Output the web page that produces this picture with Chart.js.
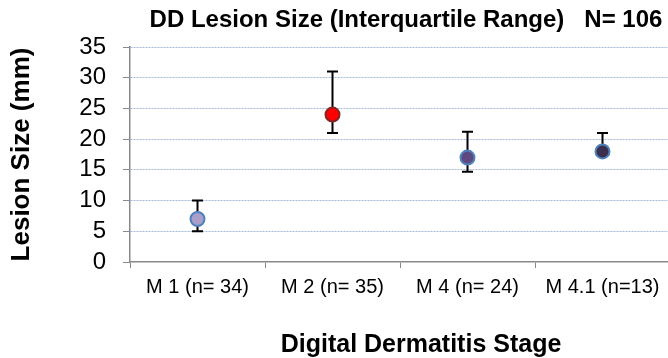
<!DOCTYPE html>
<html>
<head>
<meta charset="utf-8">
<script src="https://cdn.jsdelivr.net/npm/chart.js@4.4.1/dist/chart.umd.min.js"></script>
<style>
  html,body{margin:0;padding:0;background:#fff;overflow:hidden;}
  canvas{display:block;}
</style>
</head>
<body>
<canvas id="c" width="679" height="358"></canvas>
<script>
// data
const stages = ['M 1 (n= 34)', 'M 2 (n= 35)', 'M 4 (n= 24)', 'M 4.1 (n=13)'];
const median = [7, 24, 17, 18];
const q1     = [5, 21, 14.7, 18];
const q3     = [10, 31, 21.2, 21];
const yTicks = [0, 5, 10, 15, 20, 25, 30, 35];

const FONT = 'Liberation Sans';
const fills   = ['#aa9fc8', '#ff0000', '#5e4a80', '#3a2f4f'];
const borders = ['#4f81bd', '#862424', '#4f81bd', '#4f81bd'];
const AXIS = '#8a8a8a';

// whiskers behind the markers
const errorBars = {
  id: 'errorBars',
  beforeDatasetsDraw(chart){
    const {ctx, scales:{x, y}} = chart;
    ctx.save();
    ctx.strokeStyle = '#000'; ctx.lineWidth = 2;
    stages.forEach((s, i) => {
      const px = x.getPixelForValue(i);
      const top = y.getPixelForValue(q3[i]), bot = y.getPixelForValue(q1[i]);
      ctx.beginPath();
      ctx.moveTo(px, top); ctx.lineTo(px, bot);
      ctx.moveTo(px - 5.5, top); ctx.lineTo(px + 5.5, top);
      ctx.moveTo(px - 5.5, bot); ctx.lineTo(px + 5.5, bot);
      ctx.stroke();
    });
    ctx.restore();
  }
};

// chart title + x axis title (placed off-centre like the original)
const texts = {
  id: 'texts',
  afterDraw(chart){
    const ctx = chart.ctx;
    ctx.save();
    ctx.fillStyle = '#000';
    ctx.textAlign = 'center';
    ctx.textBaseline = 'alphabetic';
    ctx.font = 'bold 24px "' + FONT + '"';
    ctx.fillText('DD Lesion Size (Interquartile Range)   N= 106', 406, 27);
    ctx.font = 'bold 25px "' + FONT + '"';
    ctx.fillText('Digital Dermatitis Stage', 421, 352);
    ctx.restore();
  }
};

new Chart(document.getElementById('c'), {
  type: 'line',
  data: {
    labels: stages,
    datasets: [{
      data: median,
      showLine: false,
      pointRadius: 7,
      pointBorderWidth: 2,
      pointBackgroundColor: fills,
      pointBorderColor: borders
    }]
  },
  options: {
    responsive: false,
    animation: false,
    layout: { padding: { top: 47, right: 1, left: 0, bottom: 0 } },
    plugins: { legend: { display: false }, tooltip: { enabled: false } },
    scales: {
      x: {
        type: 'category',
        offset: true,
        grid: { display: true, drawOnChartArea: false, offset: true, tickLength: 6, color: AXIS, tickColor: AXIS },
        border: { color: AXIS, width: 1.5 },
        ticks: { color: '#000', font: { family: FONT, size: 20 }, padding: 7, maxRotation: 0, autoSkip: false },
        afterFit(s){ s.height = 96; }
      },
      y: {
        min: 0, max: 35,
        afterBuildTicks(s){ s.ticks = yTicks.map(v => ({ value: v })); },
        grid: {
          color: c => (c.tick && c.tick.value === 0) ? 'rgba(0,0,0,0)' : '#a3bbdc',
          tickColor: AXIS, tickLength: 7, tickBorderDash: [], lineWidth: 1
        },
        border: { color: AXIS, width: 1.5, dash: [2, 1] },
        ticks: { color: '#000', font: { family: FONT, size: 24 }, padding: 17, autoSkip: false },
        title: { display: true, text: 'Lesion Size (mm)', color: '#000',
                 font: { family: FONT, size: 26, weight: 'bold' }, padding: { top: 6 } },
        afterFit(s){ s.width = 130; }
      }
    }
  },
  plugins: [errorBars, texts]
});
</script>
</body>
</html>
